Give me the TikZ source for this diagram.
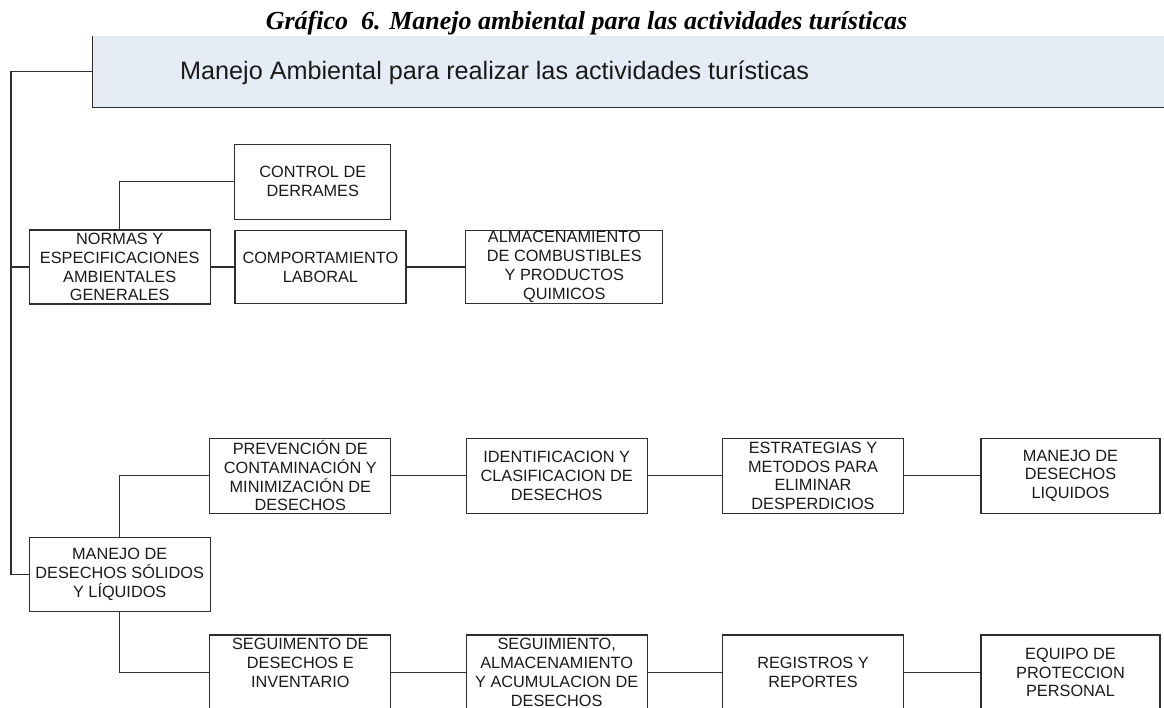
\documentclass[tikz,border=0pt]{standalone}
\usepackage{fontspec}
\setmainfont{Liberation Sans}
\newfontfamily\titlefont{Liberation Serif}
\definecolor{hdrfill}{HTML}{E6ECF6}
\definecolor{linecol}{HTML}{2E2E2E}
\definecolor{txtcol}{HTML}{1A1A1A}
\tikzset{
  box/.style={draw=linecol, line width=1.2pt, rectangle, align=center, inner sep=0pt,
    minimum width=181pt, minimum height=75pt, text=txtcol,
    font=\fontsize{16.3}{18.8}\selectfont},
  conn/.style={draw=linecol, line width=1.1pt},
}
\begin{document}
\begin{tikzpicture}[x=1pt,y=-1pt]
\clip (0,0) rectangle (1164,708);
\fill[white] (0,0) rectangle (1164,708);
% title
\node[anchor=base, inner sep=0pt, text=black, font=\titlefont\bfseries\itshape\fontsize{26}{30}\selectfont] (title) at (586.5,30) {Gráfico~~6. Manejo ambiental para las actividades turísticas};
% header
\node[fill=hdrfill, draw=none, anchor=north west, minimum width=1080pt, minimum height=71pt, inner sep=0pt] (hdr) at (92.7,36) {};
\draw[linecol, line width=1.3pt] (hdr.north west) -- (hdr.south west) -- (hdr.south east);
\node[anchor=base west, inner sep=0pt, text=txtcol, font=\fontsize{25.2}{29}\selectfont] (hdrtext) at (180,79.5) {Manejo Ambiental para realizar las actividades turísticas};
% boxes
\node[box, minimum width=181pt, minimum height=74pt] (normas) at (119.7,267) {NORMAS Y\\ESPECIFICACIONES\\AMBIENTALES\\GENERALES};
\node[box, minimum width=156pt] (control) at (312.8,181.7) {CONTROL DE\\DERRAMES};
\node[box, minimum width=171pt, minimum height=73.5pt] (comport) at (320.4,267) {COMPORTAMIENTO\\LABORAL};
\node[box, minimum width=197pt, minimum height=73.5pt] (almac) at (564.3,267) {ALMACENAMIENTO\\DE COMBUSTIBLES\\Y PRODUCTOS\\QUIMICOS};
\node[box, minimum height=74pt] (manejo) at (119.7,574.2) {MANEJO DE\\DESECHOS SÓLIDOS\\Y LÍQUIDOS};
\node[box] (prev) at (300.3,475.8) {PREVENCIÓN DE\\CONTAMINACIÓN Y\\MINIMIZACIÓN DE\\DESECHOS};
\node[box] (ident) at (556.7,475.8) {IDENTIFICACION Y\\CLASIFICACION DE\\DESECHOS};
\node[box] (estrat) at (813,475.8) {ESTRATEGIAS Y\\METODOS PARA\\ELIMINAR\\DESPERDICIOS};
\node[box, minimum width=179pt] (liquid) at (1070.5,475.8) {MANEJO DE\\DESECHOS\\LIQUIDOS};
\node[box] (seginv) at (300.3,672.5) {SEGUIMENTO DE\\DESECHOS E\\INVENTARIO\\\mbox{}};
\node[box] (segalm) at (556.7,672.5) {SEGUIMIENTO,\\ALMACENAMIENTO\\Y ACUMULACION DE\\DESECHOS};
\node[box] (regis) at (813,672.5) {REGISTROS Y\\REPORTES};
\node[box, minimum width=179pt] (equipo) at (1070.5,672.5) {EQUIPO DE\\PROTECCION\\PERSONAL};
% connectors
\coordinate (tk) at (11,0);
\draw[conn] (hdr.west) -- (hdr.west -| tk) |- (manejo.west);
\draw[conn] (normas.west) -- (normas.west -| tk);
\draw[conn] (normas.north) |- (control.west);
\draw[conn] (normas.east) -- (comport.west);
\draw[conn] (comport.east) -- (almac.west);
\draw[conn] (manejo.north) |- (prev.west);
\draw[conn] (manejo.south) |- (seginv.west);
\draw[conn] (prev.east) -- (ident.west);
\draw[conn] (ident.east) -- (estrat.west);
\draw[conn] (estrat.east) -- (liquid.west);
\draw[conn] (seginv.east) -- (segalm.west);
\draw[conn] (segalm.east) -- (regis.west);
\draw[conn] (regis.east) -- (equipo.west);
\end{tikzpicture}
\end{document}
